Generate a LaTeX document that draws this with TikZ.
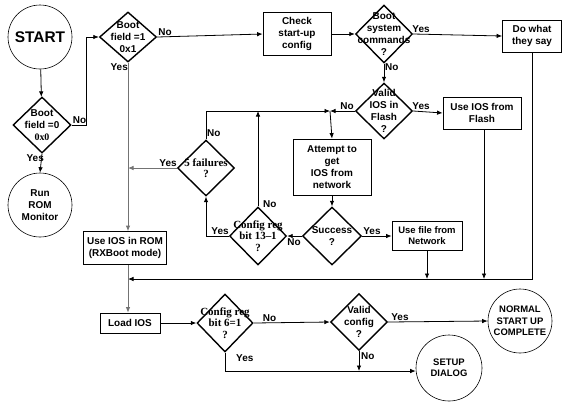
\documentclass[tikz,border=0pt]{standalone}
\usepackage{fontspec}
\setmainfont{Liberation Sans}
\newfontfamily\serifb{Liberation Serif}
\usetikzlibrary{shapes.geometric,arrows.meta}
\begin{document}
\begin{tikzpicture}[x=1bp,y=-1bp,
  every node/.style={font=\bfseries\fontsize{10}{12}\selectfont},
  box/.style={draw,line width=0.8bp,inner sep=0pt,align=center},
  dia/.style={diamond,draw,line width=1.4bp,inner sep=0pt},
  dtext/.style={align=center,inner sep=0pt},
  stext/.style={align=center,inner sep=0pt,font=\serifb\bfseries\fontsize{11}{11.5}\selectfont},
  circ/.style={circle,draw,line width=0.6bp,inner sep=0pt,align=center},
  lab/.style={inner sep=1pt,font=\bfseries\fontsize{10}{12}\selectfont},
  conn/.style={line width=0.8bp},
  arr/.style={conn,-{Latex[length=5.5bp,width=4.5bp]}},
  garr/.style={arr,draw=black!55}
]
\useasboundingbox (0,0) rectangle (580,404);
% nodes
\node[circ,minimum size=64bp,font=\bfseries\fontsize{15.5}{17}\selectfont] (start) at (40,37) {START};
\node[dia,minimum width=58bp,minimum height=56bp] (bf0) at (42,125) {};
\node[dtext] (bf0t) at (bf0) {Boot\\field =0\\{\serifb 0x0}};
\node[circ,minimum size=64bp] (rom) at (40,205) {Run\\ROM\\Monitor};
\node[dia,minimum width=57bp,minimum height=50bp] (bf1) at (128,37) {};
\node[dtext] (bf1t) at (bf1) {Boot\\field =1\\0x1};
\node[box,minimum width=68bp,minimum height=43bp] (check) at (297,34) {Check\\start-up\\config};
\node[dia,minimum width=57bp,minimum height=58bp] (bsys) at (384,34) {};
\node[dtext] (bsyst) at (bsys) {Boot\\system\\commands\\?};
\node[box,minimum width=59bp,minimum height=32bp] (dowhat) at (532,36) {Do what\\they say};
\node[dia,minimum width=57bp,minimum height=56bp] (vios) at (384,111) {};
\node[dtext] (viost) at (vios) {Valid\\IOS in\\Flash\\?};
\node[box,minimum width=78bp,minimum height=32bp] (flash) at (482,113) {Use IOS from\\Flash};
\node[dia,minimum width=57bp,minimum height=56bp] (fail5) at (206,168) {};
\node[stext] (fail5t) at (fail5) {5 failures\\?};
\node[box,minimum width=78bp,minimum height=56bp] (attempt) at (332,167) {Attempt to\\get\\IOS from\\network};
\node[dia,minimum width=57bp,minimum height=58bp] (cr13) at (258,236) {};
\node[stext] (cr13t) at (cr13) {Config reg\\bit 13–1\\?};
\node[dia,minimum width=59bp,minimum height=58bp] (succ) at (332,236) {};
\node[dtext] (succt) at (succ) {Success\\?};
\node[box,minimum width=70bp,minimum height=29bp,font=\bfseries\fontsize{9.5}{11}\selectfont] (netf) at (427,236) {Use file from\\Network};
\node[box,minimum width=83bp,minimum height=33bp] (rxboot) at (125,248) {Use IOS in ROM\\(RXBoot mode)};
\node[box,minimum width=60bp,minimum height=20bp] (load) at (130,323) {Load IOS};
\node[dia,minimum width=56bp,minimum height=58bp] (cr6) at (225,323) {};
\node[stext] (cr6t) at (cr6) {Config reg\\bit 6=1\\?};
\node[dia,minimum width=57bp,minimum height=57bp] (vconf) at (359,322) {};
\node[dtext] (vconft) at (vconf) {Valid\\config\\?};
\node[circ,minimum size=64bp,font=\bfseries\fontsize{9.5}{11.5}\selectfont] (normal) at (520,321) {NORMAL\\START UP\\COMPLETE};
\node[circ,minimum size=66bp,font=\bfseries\fontsize{9.5}{11.5}\selectfont] (setup) at (449,368) {SETUP\\DIALOG};
% junction coordinates
\coordinate (J) at (330,111);
\coordinate (bus) at (128,279);
% connectors
\draw[arr] (start) -- (bf0);
\draw[arr] (bf0.east) -- (86,125) -- (86,37) -- (bf1.west);
\node[lab,anchor=south west] (n1) at (bf0.east) {No};
\draw[arr] (bf0.south) -- (rom.north);
\node[lab,anchor=north east] (y1) at ([xshift=3bp]bf0.south) {Yes};
\draw[garr] (bf1.south) -- (bf1.south |- rxboot.north);
\node[lab,anchor=north east] (y2) at ([xshift=1bp]bf1.south) {Yes};
\draw[arr] (bf1.east) -- (check.west);
\node[lab,anchor=south west] (n2) at (bf1.east) {No};
\draw[arr] (check.east) -- (bsys.west);
\draw[arr] (bsys.east) -- (dowhat.west);
\node[lab,anchor=south west] (y3) at ([xshift=-2bp]bsys.east) {Yes};
\draw[arr] (bsys.south) -- (vios.north);
\node[lab,anchor=north west] (n3) at ([yshift=1bp]bsys.south) {No};
\draw[arr] (vios.east) -- (flash.west);
\node[lab,anchor=south west] (y4) at ([xshift=-2bp]vios.east) {Yes};
\draw[arr] (vios.west) -- (J);
\node[lab,anchor=south east] (n4) at (vios.west) {No};
\draw[arr] (fail5.north) -- (fail5.north |- J) -- (J);
\node[lab,anchor=south west] (n5) at ([yshift=2bp]fail5.north) {No};
\draw[arr] (cr13.north) -- (cr13.north |- J);
\node[lab,anchor=south west] (n6) at ([xshift=4bp,yshift=-2bp]cr13.north) {No};
\draw[arr] (J) -- (attempt.north);
\draw[arr] (attempt.south) -- (succ.north);
\draw[arr] (succ.west) -- (cr13.east);
\node[lab,anchor=north east] (n7) at ([yshift=-1bp]succ.west) {No};
\draw[arr] (succ.east) -- (netf.west);
\node[lab,anchor=south west] (y5) at (succ.east) {Yes};
\draw[arr] (cr13.west) -- (cr13.west -| fail5.south) -- (fail5.south);
\node[lab,anchor=south east] (y6) at ([xshift=1bp]cr13.west) {Yes};
\draw[garr] (fail5.west) -- (fail5.west -| bus);
\node[lab,anchor=south east] (y7) at ([xshift=1bp]fail5.west) {Yes};
\draw[arr] (dowhat.south) -- (dowhat.south |- bus) -- (bus);
\draw[arr] (netf.south) -- (netf.south |- bus);
\draw[arr] (484,129) -- (484,279);
\draw[garr] (rxboot.south -| bus) -- (load.north -| bus);
\draw[arr] (load.east) -- (cr6.west);
\draw[arr] (cr6.east) -- (vconf.west);
\node[lab,anchor=south west] (n8) at ([xshift=8bp]cr6.east) {No};
\draw[arr] (vconf.east) -- (normal.west);
\node[lab,anchor=south west] (y8) at ([xshift=2bp]vconf.east) {Yes};
\draw[arr] (cr6.south) -- (225,371) -- (setup.west |- 0,371);
\node[lab,anchor=north west] (y9) at ([xshift=10bp,yshift=-1bp]cr6.south) {Yes};
\draw[arr] (vconf.south) -- (359,371);
\node[lab,anchor=north west] (n9) at ([xshift=1bp]vconf.south) {No};
\end{tikzpicture}
\end{document}
